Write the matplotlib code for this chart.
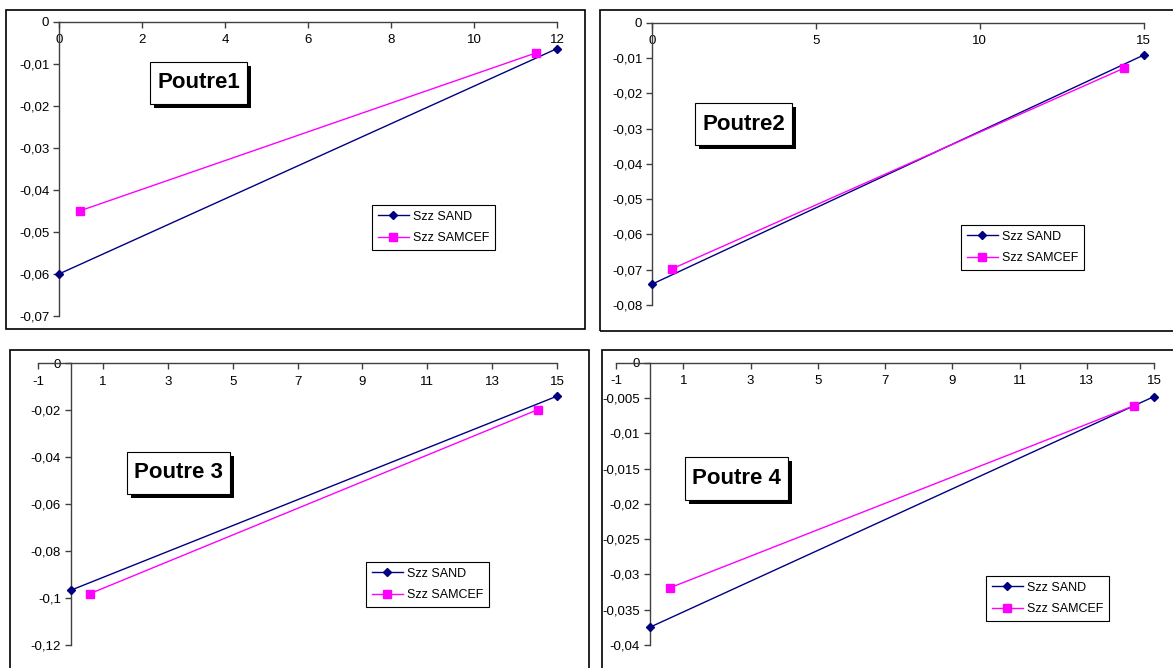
import matplotlib
matplotlib.use("Agg")
import matplotlib.pyplot as plt
from matplotlib.patches import Rectangle
from matplotlib.ticker import FixedLocator, FuncFormatter

# ---- data -------------------------------------------------------------
titles = ["Poutre1", "Poutre2", "Poutre 3", "Poutre 4"]
series_names = ["Szz SAND", "Szz SAMCEF"]

sand_x_1 = [0, 12]
sand_y_1 = [-0.0600, -0.0064]
samcef_x_1 = [0.5, 11.5]
samcef_y_1 = [-0.0450, -0.0074]

sand_x_2 = [0, 15]
sand_y_2 = [-0.0741, -0.0092]
samcef_x_2 = [0.6, 14.4]
samcef_y_2 = [-0.0698, -0.0129]

sand_x_3 = [0, 15]
sand_y_3 = [-0.0967, -0.0140]
samcef_x_3 = [0.6, 14.4]
samcef_y_3 = [-0.0981, -0.0198]

sand_x_4 = [0, 15]
sand_y_4 = [-0.0375, -0.0048]
samcef_x_4 = [0.6, 14.4]
samcef_y_4 = [-0.0319, -0.0061]

x_ticks_1 = [0, 2, 4, 6, 8, 10, 12]
x_ticks_2 = [0, 5, 10, 15]
x_ticks_34 = [-1, 1, 3, 5, 7, 9, 11, 13, 15]

y_ticks_1 = [0, -0.01, -0.02, -0.03, -0.04, -0.05, -0.06, -0.07]
y_ticks_2 = [0, -0.01, -0.02, -0.03, -0.04, -0.05, -0.06, -0.07, -0.08]
y_ticks_3 = [0, -0.02, -0.04, -0.06, -0.08, -0.1, -0.12]
y_ticks_4 = [0, -0.005, -0.01, -0.015, -0.02, -0.025, -0.03, -0.035, -0.04]

# ---- figure -----------------------------------------------------------
W, H = 1173, 668
fig = plt.figure(figsize=(W / 100, H / 100), dpi=100)
fig.patch.set_facecolor("white")
plt.rcParams["font.family"] = ["Liberation Sans", "DejaVu Sans"]

NAVY = "#000080"
MAGENTA = "#FF00FF"
AXIS_GREY = "#404040"
TICK_FS = 9.5


def fx(x):
    return x / W


def fy(y):
    return 1 - y / H


def comma_fmt(v, pos=None):
    if abs(v) < 1e-12:
        return "0"
    return f"{v:g}".replace(".", ",")


def int_fmt(v, pos=None):
    return f"{v:.0f}"


panels = [
    dict(frame=(6, 10, 585, 329), axes=(59, 21.7, 557, 316),
         xlim=(0, 12), ylim=(-0.07, 0), xt=x_ticks_1, yt=y_ticks_1,
         sx=sand_x_1, sy=sand_y_1, mx=samcef_x_1, my=samcef_y_1,
         leg=(372, 205), box=(150, 62, 247, 104)),
    dict(frame=(600, 10, 1190, 331), axes=(652, 22.7, 1143.5, 305),
         xlim=(0, 15), ylim=(-0.08, 0), xt=x_ticks_2, yt=y_ticks_2,
         sx=sand_x_2, sy=sand_y_2, mx=samcef_x_2, my=samcef_y_2,
         leg=(961, 225), box=(695, 103, 792, 145)),
    dict(frame=(10, 350, 589, 690), axes=(38.2, 363.3, 557, 645),
         xlim=(-1, 15), ylim=(-0.12, 0), xt=x_ticks_34, yt=y_ticks_3,
         sx=sand_x_3, sy=sand_y_3, mx=samcef_x_3, my=samcef_y_3,
         leg=(366, 562), box=(127, 452, 230, 494)),
    dict(frame=(602, 350, 1190, 690), axes=(616, 362.7, 1154, 645),
         xlim=(-1, 15), ylim=(-0.04, 0), xt=x_ticks_34, yt=y_ticks_4,
         sx=sand_x_4, sy=sand_y_4, mx=samcef_x_4, my=samcef_y_4,
         leg=(986, 576), box=(685, 457, 788, 500)),
]

for p, title in zip(panels, titles):
    # chart-area border
    x0, y0, x1, y1 = p["frame"]
    fig.add_artist(Rectangle((fx(x0), fy(y1)), (x1 - x0) / W, (y1 - y0) / H,
                             transform=fig.transFigure, facecolor="none",
                             edgecolor="black", lw=1.2, zorder=3))

    l, t, r, b = p["axes"]
    ax = fig.add_axes([fx(l), fy(b), (r - l) / W, (b - t) / H])
    ax.set_facecolor("none")
    ax.set_xlim(*p["xlim"])
    ax.set_ylim(*p["ylim"])

    for side in ("top", "right"):
        ax.spines[side].set_visible(False)
    ax.spines["bottom"].set_position(("data", 0))
    ax.spines["left"].set_position(("data", 0))
    for side in ("bottom", "left"):
        ax.spines[side].set_color(AXIS_GREY)
        ax.spines[side].set_linewidth(1.0)

    ax.xaxis.set_major_locator(FixedLocator(p["xt"]))
    ax.xaxis.set_major_formatter(FuncFormatter(int_fmt))
    ax.yaxis.set_major_locator(FixedLocator(p["yt"]))
    ax.yaxis.set_major_formatter(FuncFormatter(comma_fmt))
    ax.tick_params(axis="x", direction="out", length=4, width=1.0,
                   color=AXIS_GREY, labelsize=TICK_FS, pad=5)
    ax.tick_params(axis="y", direction="out", length=4, width=1.0,
                   color=AXIS_GREY, labelsize=TICK_FS, pad=3)

    ax.plot(p["sx"], p["sy"], color=NAVY, lw=1.0, marker="D", ms=4,
            label=series_names[0], clip_on=False, zorder=4)
    ax.plot(p["mx"], p["my"], color=MAGENTA, lw=1.0, marker="s", ms=5.5,
            label=series_names[1], clip_on=False, zorder=4)

    lx, ly = p["leg"]
    leg = ax.legend(loc="upper left", bbox_to_anchor=(fx(lx), fy(ly)),
                    bbox_transform=fig.transFigure, borderaxespad=0,
                    fontsize=9, frameon=True, fancybox=False,
                    framealpha=1, edgecolor="black", handlelength=2.5,
                    handletextpad=0.3, labelspacing=0.75, borderpad=0.45)
    leg.get_frame().set_linewidth(0.8)

    # title box with drop shadow
    bx0, by0, bx1, by1 = p["box"]
    sh = 4
    fig.add_artist(Rectangle((fx(bx0 + sh), fy(by1 + sh)), (bx1 - bx0) / W,
                             (by1 - by0) / H, transform=fig.transFigure,
                             facecolor="black", edgecolor="black", lw=0,
                             zorder=5))
    fig.add_artist(Rectangle((fx(bx0), fy(by1)), (bx1 - bx0) / W,
                             (by1 - by0) / H, transform=fig.transFigure,
                             facecolor="white", edgecolor="black", lw=0.8,
                             zorder=6))
    fig.text(fx((bx0 + bx1) / 2), fy((by0 + by1) / 2), title,
             ha="center", va="center", fontsize=16, fontweight="bold",
             zorder=7)

fig.savefig("out.png", dpi=100, facecolor="white")
